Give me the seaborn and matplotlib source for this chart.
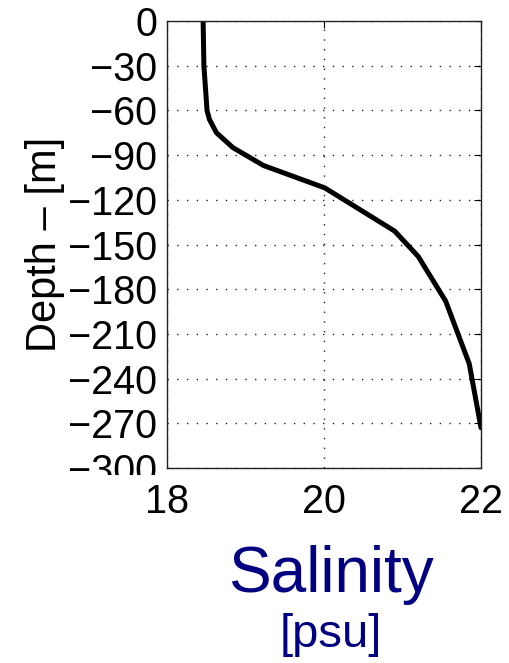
import matplotlib
matplotlib.use("Agg")
import matplotlib.pyplot as plt
import seaborn as sns
import pandas as pd
from matplotlib.transforms import Bbox

# Data
salinity = [18.46, 18.47, 18.51, 18.54, 18.63, 18.84, 19.23, 20.01, 20.90, 21.20, 21.55, 21.85, 22.00]
depth = [0, -30, -60, -66, -75, -85, -97, -112, -141, -158, -188, -230, -273]
xticks = [18, 20, 22]
yticks = list(range(0, -301, -30))

df = pd.DataFrame({"Salinity": salinity, "Depth": depth})

sns.set_style("white")
plt.rcParams['font.family'] = ['Liberation Sans', 'DejaVu Sans']

fig = plt.figure(figsize=(5.09, 6.63), dpi=100)
ax = fig.add_axes([167/509, 1-468/663, (481-167)/509, (468-21)/663])

sns.lineplot(data=df, x="Salinity", y="Depth", sort=False, color="black",
             linewidth=3.6, ax=ax, estimator=None)

ax.set_xlim(18, 22)
ax.set_ylim(-300, 0)
ax.set_xticks(xticks)
ax.set_yticks(yticks)
ax.tick_params(axis="both", direction="in", length=5, width=0.8, labelsize=28.5,
               top=True, right=True, pad=7, colors="black")
ax.tick_params(axis="x", pad=11)
for s in ax.spines.values():
    s.set_color("#222222")
    s.set_linewidth(1.0)
ax.grid(True, linestyle=(0, (1, 6)), color="#222222", linewidth=1.0)

ax.set_xlabel("")
ax.set_ylabel("Depth – [m]", fontsize=30, labelpad=2, color="black")

fig.text(331/509, 1-592/663, "Salinity", ha="center", va="baseline",
         fontsize=46, color="#000080")
fig.text(331/509, 1-647/663, "[psu]", ha="center", va="baseline",
         fontsize=34, color="#000080")

fig.canvas.draw()
for lb in ax.get_yticklabels():
    if lb.get_text().endswith("300"):
        lb.set_clip_on(True)
        lb.set_clip_box(Bbox.from_extents(0, 663-475, 170, 663))

fig.savefig("out.png", dpi=100, facecolor="white")
